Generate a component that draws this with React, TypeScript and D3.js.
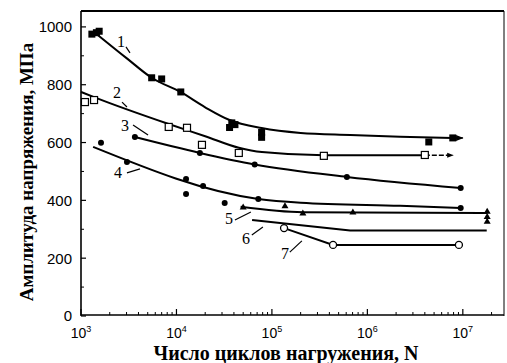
import React from "react";
import * as d3 from "d3";

type P = [number, number];

// Axis ticks
const X_EXPONENTS = [3, 4, 5, 6, 7];
const Y_TICKS = [0, 200, 400, 600, 800, 1000];
const Y_MINOR = [100, 300, 500, 700, 900];

// Series 1 (filled squares)
const s1Points: P[] = [[1300, 975], [1450, 980], [1550, 985], [5500, 824], [7000, 820], [11100, 775], [36000, 652], [38000, 668], [41000, 662], [78000, 635], [78000, 618], [4.4e6, 602], [7.85e6, 616]];
const s1Curve: P[] = [[1400, 980], [3000, 892], [5500, 824], [11100, 774], [20000, 722], [36000, 678], [78000, 650], [2e5, 633], [6.6e5, 626], [2.2e6, 620], [7.85e6, 616]];
const s1Arrow: P[] = [[7.85e6, 616], [1e7, 616]];

// Series 2 (open squares)
const s2Points: P[] = [[1100, 740], [1370, 747], [8300, 654], [12900, 651], [18500, 592], [45000, 564], [3.5e5, 554], [4e6, 557]];
const s2Curve: P[] = [[1000, 775], [1370, 757], [8300, 664], [20000, 622], [45000, 582], [78500, 567], [3.5e5, 556], [4e6, 556]];
const s2Arrow: P[] = [[4e6, 556], [7.9e6, 556]];

// Series 3 (filled circles)
const s3Points: P[] = [[3670, 619], [17600, 564], [66000, 524], [6.1e5, 481], [9.5e6, 443]];

// Series 4 (filled circles)
const s4Points: P[] = [[1620, 599], [3030, 533], [12600, 474], [12600, 422], [19000, 450], [32000, 391], [72000, 405], [9.5e6, 374]];
const s4Line: P[] = [[1340, 585], [72000, 405], [2e5, 392], [2.2e6, 381], [9.5e6, 374]];

// Series 5 (filled triangles)
const s5Points: P[] = [[50000, 377], [137000, 381], [211000, 356], [705000, 360], [1.8e7, 362], [1.8e7, 344], [1.8e7, 328]];
const s5Line: P[] = [[47000, 378], [2.1e5, 359], [1.8e7, 356]];

// Series 6 (line only)
const s6Line: P[] = [[62000, 332], [6.6e5, 296], [1.78e7, 296]];

// Series 7 (open circles)
const s7Points: P[] = [[134000, 304], [437000, 246], [9.1e6, 246]];

// Curve labels: [text, label position, leader start, leader end]
const labelTexts = ["1", "2", "3", "4", "5", "6", "7"];
const labelPos: P[] = [[2620, 951], [2380, 775], [2890, 661], [2440, 498], [35500, 336], [53500, 270], [137000, 218]];
const leaderFrom: P[] = [[2960, 931], [2690, 740], [3510, 661], [3030, 495], [41000, 332], [61600, 280], [154000, 221]];
const leaderTo: P[] = [[3260, 910], [3030, 723], [5040, 626], [4150, 509], [60200, 360], [80500, 308], [206000, 260]];

const W = 507;
const H = 363;
const left = 81, right = 504, top = 11, bottom = 316;

export default function App() {
  const x = d3.scaleLog().domain([1e3, 2.7e7]).range([left, right]);
  const y = d3.scaleLinear().domain([0, 1055]).range([bottom, top]);
  const lineSmooth = d3.line<P>().x(d => x(d[0])).y(d => y(d[1])).curve(d3.curveMonotoneX);
  const lineStraight = d3.line<P>().x(d => x(d[0])).y(d => y(d[1]));

  const xMinor: number[] = [];
  for (let e = 3; e <= 7; e++) for (let m = 2; m <= 9; m++) { const v = m * Math.pow(10, e); if (v < 2.7e7) xMinor.push(v); }

  const sq = 7;
  const serif = "'Liberation Serif', 'Times New Roman', serif";
  const sans = "'Liberation Sans', Arial, sans-serif";

  return (
    <svg width={W} height={H} style={{ position: "fixed", left: 0, top: 0, background: "#fff" }}>
      <defs>
        <marker id="arr" viewBox="0 0 10 10" refX="9" refY="5" markerWidth="5" markerHeight="5" orient="auto">
          <path d="M0,1 L10,5 L0,9 z" fill="#000" />
        </marker>
      </defs>
      <rect x={0} y={0} width={W} height={H} fill="#fff" />
      {/* frame */}
      <line x1={left} x2={right} y1={top} y2={top} stroke="#000" strokeWidth={2.2} />
      <line x1={right} x2={right} y1={top} y2={bottom} stroke="#000" strokeWidth={1} />
      <line x1={left} x2={left} y1={top} y2={bottom} stroke="#000" strokeWidth={1.6} />
      <line x1={left} x2={right} y1={bottom - 1} y2={bottom - 1} stroke="#000" strokeWidth={1.6} />

      {/* y ticks */}
      {Y_TICKS.map(t => (
        <g key={"yt" + t}>
          <line x1={left} x2={left + 5} y1={y(t)} y2={y(t)} stroke="#000" strokeWidth={1.2} />
          <text x={72} y={y(t)} dy="0.36em" textAnchor="end" fontFamily={sans} fontSize={15}>{t}</text>
        </g>
      ))}
      {Y_MINOR.map(t => (
        <line key={"ym" + t} x1={left} x2={left + 3} y1={y(t)} y2={y(t)} stroke="#000" strokeWidth={1} />
      ))}

      {/* x ticks */}
      {X_EXPONENTS.map(e => {
        const v = Math.pow(10, e);
        return (
          <g key={"xt" + e}>
            <line x1={x(v)} x2={x(v)} y1={bottom - 1} y2={bottom - 7} stroke="#000" strokeWidth={1.2} />
            <text x={x(v)} y={338} textAnchor="middle" fontFamily={sans} fontSize={14}>
              10<tspan dy={-6} fontSize={9}>{e}</tspan>
            </text>
          </g>
        );
      })}
      {xMinor.map(v => (
        <line key={"xm" + v} x1={x(v)} x2={x(v)} y1={bottom - 1} y2={bottom - 4} stroke="#000" strokeWidth={1} />
      ))}

      {/* axis titles */}
      <text x={286} y={360} textAnchor="middle" fontFamily={serif} fontWeight="bold" fontSize={20}>Число циклов нагружения, N</text>
      <text transform="translate(33,172) rotate(-90)" textAnchor="middle" fontFamily={serif} fontWeight="bold" fontSize={19}>Амплитуда напряжения, МПа</text>

      {/* lines */}
      <g fill="none" stroke="#000" strokeWidth={2}>
        <path d={lineSmooth(s1Curve) || ""} />
        <path d={lineStraight(s1Arrow) || ""} strokeWidth={1.5} markerEnd="url(#arr)" />
        <path d={lineSmooth(s2Curve) || ""} />
        <path d={lineStraight(s2Arrow) || ""} strokeWidth={1.3} strokeDasharray="5,2" markerEnd="url(#arr)" />
        <path d={lineSmooth(s3Points) || ""} />
        <path d={lineSmooth(s4Line) || ""} />
        <path d={lineSmooth(s5Line) || ""} />
        <path d={lineStraight(s6Line) || ""} />
        <path d={lineStraight(s7Points) || ""} />
      </g>

      {/* markers */}
      {s1Points.map((d, i) => (
        <rect key={"a" + i} x={x(d[0]) - sq / 2} y={y(d[1]) - sq / 2} width={sq} height={sq} fill="#000" />
      ))}
      {s2Points.map((d, i) => (
        <rect key={"b" + i} x={x(d[0]) - sq / 2} y={y(d[1]) - sq / 2} width={sq} height={sq} fill="#fff" stroke="#000" strokeWidth={1.2} />
      ))}
      {s3Points.map((d, i) => (
        <circle key={"c" + i} cx={x(d[0])} cy={y(d[1])} r={3} fill="#000" />
      ))}
      {s4Points.map((d, i) => (
        <circle key={"d" + i} cx={x(d[0])} cy={y(d[1])} r={3} fill="#000" />
      ))}
      {s5Points.map((d, i) => {
        const cx = x(d[0]), cy = y(d[1]);
        return <path key={"e" + i} d={`M${cx},${cy - 3.5} L${cx + 3.5},${cy + 2.5} L${cx - 3.5},${cy + 2.5} Z`} fill="#000" />;
      })}
      {s7Points.map((d, i) => (
        <circle key={"f" + i} cx={x(d[0])} cy={y(d[1])} r={3.5} fill="#fff" stroke="#000" strokeWidth={1.3} />
      ))}

      {/* labels */}
      {labelTexts.map((t, i) => (
        <g key={"l" + i}>
          <text x={x(labelPos[i][0])} y={y(labelPos[i][1])} dy="0.35em" textAnchor="middle" fontFamily={serif} fontSize={16}>{t}</text>
          <line x1={x(leaderFrom[i][0])} y1={y(leaderFrom[i][1])} x2={x(leaderTo[i][0])} y2={y(leaderTo[i][1])} stroke="#000" strokeWidth={1.2} />
        </g>
      ))}
    </svg>
  );
}
